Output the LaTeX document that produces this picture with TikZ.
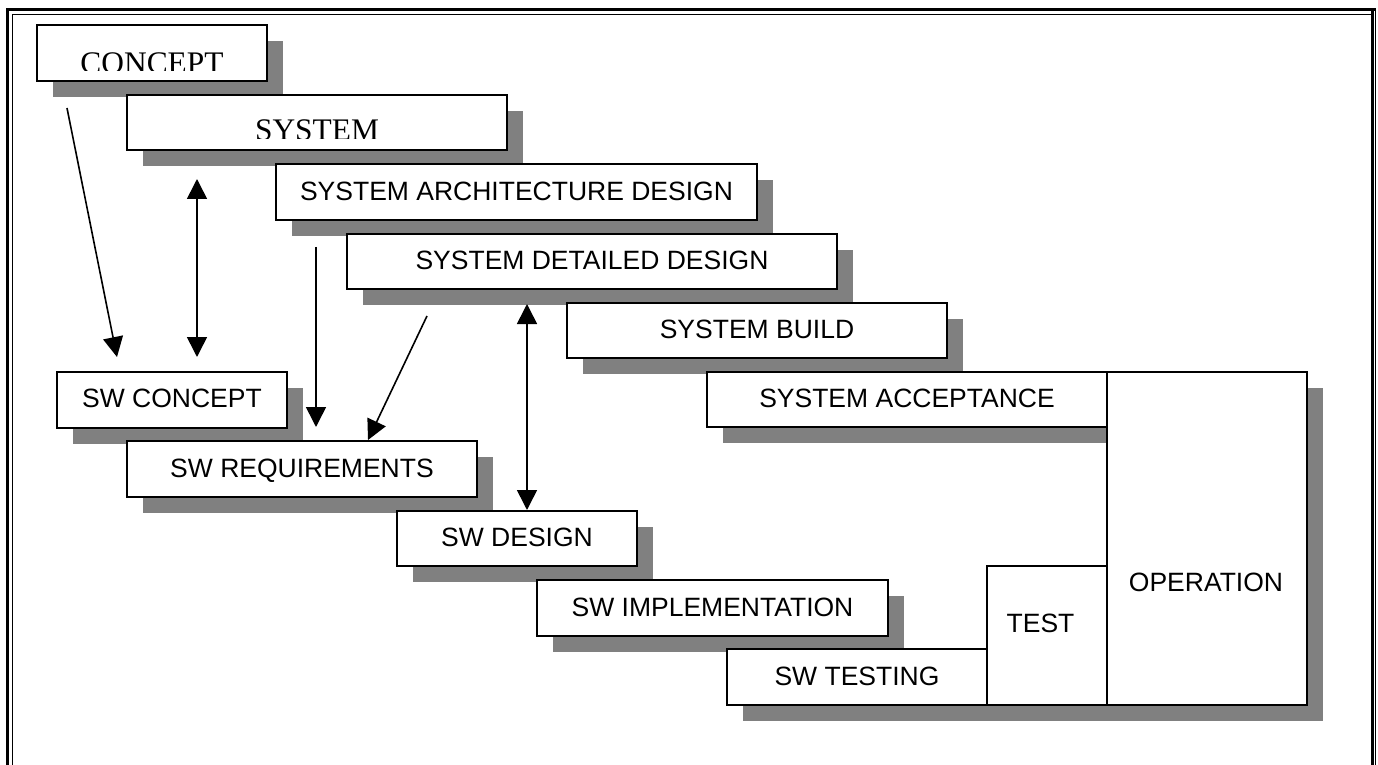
\documentclass[tikz,border=0pt]{standalone}
\usepackage{fontspec}
\setmainfont{Liberation Sans}
\newfontfamily\timesfont{Liberation Serif}
\usetikzlibrary{arrows.meta}
\pgfdeclarelayer{paperlayer}
\pgfdeclarelayer{shadowlayer}
\pgfsetlayers{paperlayer,shadowlayer,main}
\definecolor{shadowgray}{HTML}{808080}
\tikzset{
  boxstyle/.style={draw=black, fill=white, line width=0.9pt, inner sep=0pt,
    text height=9.5pt, text depth=1.5pt, font=\fontsize{13.25}{15}\selectfont},
  labelstyle/.style={inner sep=0pt, text height=9.5pt, text depth=0pt,
    font=\fontsize{13.25}{15}\selectfont},
  serifstyle/.style={inner sep=0pt, font=\timesfont\fontsize{15.7}{18}\selectfont},
  arr/.style={line width=0.8pt, -{Triangle[length=10pt,width=10pt]}},
  darr/.style={line width=0.8pt, {Triangle[length=10pt,width=10pt]}-{Triangle[length=10pt,width=10pt]}},
  thickframe/.style={line width=1.5pt},
  thinframe/.style={line width=0.5pt},
}
\newcommand\phasebox[6]{%
  \begin{pgfonlayer}{shadowlayer}
    \fill[shadowgray] (#2+16,#3+16) rectangle (#4+16,#5+16);
  \end{pgfonlayer}
  \node[boxstyle, minimum width={(#4-#2)*0.5pt}, minimum height={(#5-#3)*0.5pt}]
    (#1) at ({(#2+#4)/2},{(#3+#5)/2}) {#6};
}
\begin{document}
\begin{tikzpicture}[x=0.5pt,y=-0.5pt]
\useasboundingbox (0,0) rectangle (1378,765);
\begin{pgfonlayer}{paperlayer}
  \fill[white] (0,0) rectangle (1378,765);
\end{pgfonlayer}
\clip (0,0) rectangle (1378,765);

% frame
\draw[thickframe] (7.5,800) -- (7.5,9.5) -- (1376,9.5);
\draw[thickframe] (1372.5,9.5) -- (1372.5,800);
\draw[thinframe] (12.5,800) -- (12.5,14.5) -- (1372.5,14.5);
\draw[thinframe] (1375.8,9.5) -- (1375.8,800);

% system phases
\phasebox{concept}{37}{25}{267}{81}{}
\begin{scope}
  \clip (37,25) rectangle (267,71);
  \node[serifstyle, anchor=base] (concepttext) at (152,73.3) {CONCEPT};
\end{scope}
\phasebox{system}{127}{95}{507}{150}{}
\begin{scope}
  \clip (127,95) rectangle (507,138.3);
  \node[serifstyle, anchor=base] (systemtext) at (317,140.6) {SYSTEM};
\end{scope}
\phasebox{sad}{276}{164}{757}{220}{SYSTEM ARCHITECTURE DESIGN}
\phasebox{sdd}{347}{234}{837}{289}{SYSTEM DETAILED DESIGN}
\phasebox{sbuild}{567}{303}{947}{358}{SYSTEM BUILD}
\phasebox{sacc}{707}{372}{1107}{427}{SYSTEM ACCEPTANCE}

% software phases
\phasebox{swconcept}{57}{372}{287}{428}{SW CONCEPT}
\phasebox{swreq}{127}{441}{477}{497}{SW REQUIREMENTS}
\phasebox{swdesign}{397}{511}{637}{566}{SW DESIGN}
\phasebox{swimpl}{537}{580}{888}{636}{SW IMPLEMENTATION}
\phasebox{swtest}{727}{649}{987}{705}{SW TESTING}
\phasebox{test}{987}{566}{1107}{705}{}
\node[labelstyle] (testtext) at (1040.5,623) {TEST};
\phasebox{operation}{1107}{372}{1307}{705}{}
\node[labelstyle] (operationtext) at (1206,582) {OPERATION};

% connector end points
\coordinate (a1s) at (67,108);
\coordinate (a1e) at (117,357);
\coordinate (a2s) at (197,179);
\coordinate (a2e) at (197,357);
\coordinate (a3s) at (316,247);
\coordinate (a3e) at (316,427);
\coordinate (a4s) at (427,316);
\coordinate (a4e) at (368,440);
\coordinate (a5s) at (527,304);
\coordinate (a5e) at (527,510);

\draw[arr] (a1s) -- (a1e);
\draw[darr] (a2s) -- (a2e);
\draw[arr] (a3s) -- (a3e);
\draw[arr] (a4s) -- (a4e);
\draw[darr] (a5s) -- (a5e);
\end{tikzpicture}
\end{document}
